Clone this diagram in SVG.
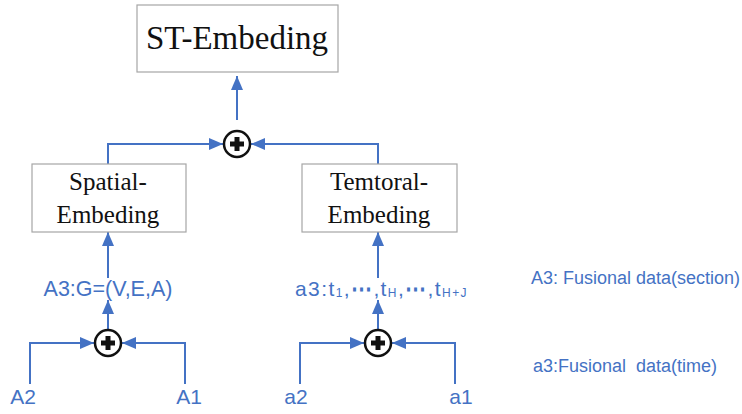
<svg xmlns="http://www.w3.org/2000/svg" width="742" height="414" viewBox="0 0 742 414">
  <defs>
    <marker id="arrow" markerUnits="userSpaceOnUse" markerWidth="14" markerHeight="12" viewBox="0 0 14 12" refX="14" refY="6" orient="auto">
      <path d="M0,0 L14,6 L0,12 Z" fill="#4472C4"/>
    </marker>
    <g id="plus">
      <circle r="13" fill="#ffffff" stroke="#111111" stroke-width="2.5"/>
      <path d="M-7,0 H7 M0,-7 V7" stroke="#111111" stroke-width="5" stroke-linecap="butt"/>
    </g>
  </defs>
  <style>
    .box { fill: #ffffff; stroke: #a6a6a6; stroke-width: 1.2; }
    .serif { font-family: "Liberation Serif", "Times New Roman", serif; fill: #111111; text-anchor: middle; }
    .lbl { font-family: "Liberation Sans", Arial, sans-serif; fill: #4472C4; }
    .edge { fill: none; stroke: #4472C4; stroke-width: 2; }
    .dots { font-weight: bold; }
  </style>
  <rect width="742" height="414" fill="#ffffff"/>

  <!-- connectors -->
  <g id="connectors">
    <path class="edge" d="M237,120 V76" marker-end="url(#arrow)"/>
    <path class="edge" d="M108,164 V144 H223" marker-end="url(#arrow)"/>
    <path class="edge" d="M378,164 V144 H251" marker-end="url(#arrow)"/>
    <path class="edge" d="M108,278 V232" marker-end="url(#arrow)"/>
    <path class="edge" d="M378,278 V232" marker-end="url(#arrow)"/>
    <path class="edge" d="M108,330 V300" marker-end="url(#arrow)"/>
    <path class="edge" d="M378,330 V300" marker-end="url(#arrow)"/>
    <path class="edge" d="M30,384 V343 H94" marker-end="url(#arrow)"/>
    <path class="edge" d="M185,384 V343 H122" marker-end="url(#arrow)"/>
    <path class="edge" d="M300,384 V343 H364" marker-end="url(#arrow)"/>
    <path class="edge" d="M455,384 V343 H392" marker-end="url(#arrow)"/>
  </g>

  <!-- sum nodes -->
  <g id="sum-top"><use href="#plus" x="237" y="144"/></g>
  <g id="sum-spatial"><use href="#plus" x="108" y="343"/></g>
  <g id="sum-temporal"><use href="#plus" x="378" y="343"/></g>

  <!-- embedding boxes -->
  <g id="st-embeding">
    <rect class="box" x="137" y="5" width="201" height="67"/>
    <text class="serif" x="237" y="49" font-size="33">ST-Embeding</text>
  </g>
  <g id="spatial-embeding">
    <rect class="box" x="32" y="164" width="154" height="68"/>
    <text class="serif" x="108" y="190" font-size="25">Spatial-</text>
    <text class="serif" x="108" y="223" font-size="25">Embeding</text>
  </g>
  <g id="temporal-embeding">
    <rect class="box" x="302" y="164" width="155" height="68"/>
    <text class="serif" x="379" y="190" font-size="25">Temtoral-</text>
    <text class="serif" x="379" y="223" font-size="25">Embeding</text>
  </g>

  <!-- data labels -->
  <g id="label-A3">
    <text class="lbl" x="108" y="296" font-size="21.5" text-anchor="middle">A3:G=(V,E,A)</text>
  </g>
  <g id="label-a3">
    <text class="lbl" x="295" y="296" font-size="21" letter-spacing="1.4">a3:t<tspan font-size="12" dy="1">1</tspan><tspan dy="-1">,</tspan><tspan class="dots">⋯</tspan>,t<tspan font-size="12" dy="1">H</tspan><tspan dy="-1">,</tspan><tspan class="dots">⋯</tspan>,t<tspan font-size="12" dy="1">H+J</tspan></text>
  </g>
  <g id="input-A2"><text class="lbl" x="23" y="404" font-size="21" text-anchor="middle">A2</text></g>
  <g id="input-A1"><text class="lbl" x="189" y="404" font-size="21" text-anchor="middle">A1</text></g>
  <g id="input-a2"><text class="lbl" x="296" y="404" font-size="21" text-anchor="middle">a2</text></g>
  <g id="input-a1"><text class="lbl" x="461" y="404" font-size="21" text-anchor="middle">a1</text></g>

  <!-- legend -->
  <g id="legend">
    <text class="lbl" x="531" y="284" font-size="18">A3: Fusional data(section)</text>
    <text class="lbl" x="533" y="372" font-size="18" xml:space="preserve">a3:Fusional  data(time)</text>
  </g>
</svg>
